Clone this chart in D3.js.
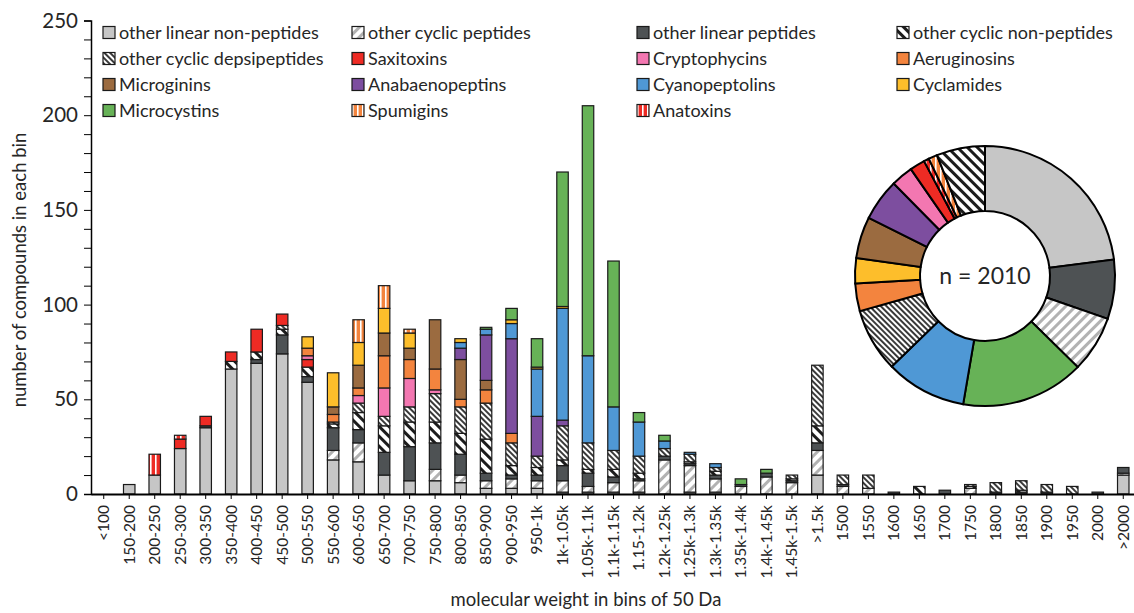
<!DOCTYPE html>
<html>
<head>
<meta charset="utf-8">
<script src="https://d3js.org/d3.v7.min.js"></script>
<style>
    body { margin: 0; background: #fff; }
    svg { font-family: Lato, "Open Sans", sans-serif; }
</style>
</head>
<body>
<div id="chart"></div>
<script>
// Bins of molecular weight (x axis)
const bins = ['<100', '150-200', '200-250', '250-300', '300-350', '350-400', '400-450', '450-500',
    '500-550', '550-600', '600-650', '650-700', '700-750', '750-800', '800-850', '850-900',
    '900-950', '950-1k', '1k-1.05k', '1.05k-1.1k', '1.1k-1.15k', '1.15-1.2k', '1.2k-1.25k',
    '1.25k-1.3k', '1.3k-1.35k', '1.35k-1.4k', '1.4k-1.45k', '1.45k-1.5k', '>1.5k', '1500',
    '1550', '1600', '1650', '1700', '1750', '1800', '1850', '1900', '1950', '2000', '>2000'];

// Number of compounds per bin, one array per compound class (stack order, bottom to top)
const linNonPep   = [0,5,10,24,35,66,69,74,59,18,17,10,7,7,6,3,3,3,1,1,1,1,0,1,1,0,0,0,10,0,0,0,0,0,0,0,0,0,0,0,10];
const cycPep      = [0,0,0,0,0,0,0,0,0,5,10,0,0,6,4,4,5,4,6,3,5,6,18,14,7,4,9,6,13,4,3,0,0,0,3,0,0,0,0,0,1];
const linPep      = [0,0,0,0,1,0,2,10,3,12,7,12,18,14,11,4,2,3,8,7,3,1,2,1,2,1,2,1,4,1,0,1,0,2,0,1,1,1,0,1,3];
const cycNonPep   = [0,0,0,0,0,4,4,3,5,2,9,14,13,11,11,18,5,4,3,2,4,3,0,1,2,0,0,1,9,0,0,0,4,0,1,0,1,0,0,0,0];
const cycDepsi    = [0,0,0,0,0,0,0,2,0,1,5,5,8,15,14,19,12,6,18,14,10,9,4,4,2,0,0,2,32,5,7,0,0,0,1,5,5,4,4,0,0];
const saxitoxins  = [0,0,0,5,5,5,12,6,4,0,0,0,0,0,0,0,0,0,0,0,0,0,0,0,0,0,0,0,0,0,0,0,0,0,0,0,0,0,0,0,0];
const cryptophycins = [0,0,0,0,0,0,0,0,2,0,4,15,15,2,0,0,0,0,0,0,0,0,0,0,0,0,0,0,0,0,0,0,0,0,0,0,0,0,0,0,0];
const aeruginosins = [0,0,0,0,0,0,0,0,4,4,4,17,10,11,4,7,5,0,0,0,0,0,0,0,0,0,0,0,0,0,0,0,0,0,0,0,0,0,0,0,0];
const microginins = [0,0,0,0,0,0,0,0,0,4,12,12,6,26,21,5,0,0,0,0,0,0,0,0,0,0,0,0,0,0,0,0,0,0,0,0,0,0,0,0,0];
const anabaenopeptins = [0,0,0,0,0,0,0,0,0,0,0,0,0,0,6,24,50,21,3,0,0,0,0,0,0,0,0,0,0,0,0,0,0,0,0,0,0,0,0,0,0];
const cyanopeptolins = [0,0,0,0,0,0,0,0,0,0,0,0,0,0,3,3,8,25,59,46,23,18,4,1,2,0,0,0,0,0,0,0,0,0,0,0,0,0,0,0,0];
const cyclamides  = [0,0,0,0,0,0,0,0,6,18,12,13,8,0,2,0,2,1,1,0,0,0,0,0,0,0,0,0,0,0,0,0,0,0,0,0,0,0,0,0,0];
const microcystins = [0,0,0,0,0,0,0,0,0,0,0,0,0,0,0,1,6,15,71,132,77,5,3,0,0,3,2,0,0,0,0,0,0,0,0,0,0,0,0,0,0];
const spumigins   = [0,0,0,0,0,0,0,0,0,0,12,12,2,0,0,0,0,0,0,0,0,0,0,0,0,0,0,0,0,0,0,0,0,0,0,0,0,0,0,0,0];
const anatoxins   = [0,0,11,2,0,0,0,0,0,0,0,0,0,0,0,0,0,0,0,0,0,0,0,0,0,0,0,0,0,0,0,0,0,0,0,0,0,0,0,0,0];

const keys = ['linNonPep', 'cycPep', 'linPep', 'cycNonPep', 'cycDepsi', 'saxitoxins', 'cryptophycins',
    'aeruginosins', 'microginins', 'anabaenopeptins', 'cyanopeptolins', 'cyclamides', 'microcystins',
    'spumigins', 'anatoxins'];
const labels = ['other linear non-peptides', 'other cyclic peptides', 'other linear peptides',
    'other cyclic non-peptides', 'other cyclic depsipeptides', 'Saxitoxins', 'Cryptophycins',
    'Aeruginosins', 'Microginins', 'Anabaenopeptins', 'Cyanopeptolins', 'Cyclamides', 'Microcystins',
    'Spumigins', 'Anatoxins'];

// Doughnut: class shares of all compounds (clockwise from 12 o'clock)
const pieKeys   = ['linNonPep', 'linPep', 'cycPep', 'microcystins', 'cyanopeptolins', 'cycDepsi',
    'aeruginosins', 'cyclamides', 'microginins', 'anabaenopeptins', 'cryptophycins', 'saxitoxins',
    'anatoxins', 'spumigins', 'cycNonPep'];
const pieValues = [462, 148, 141, 308, 202, 159, 69, 63, 104, 105, 55, 38, 13, 22, 121];
const total = 2010;

const W = 1134, H = 613;
const margin = {top: 20.5, left: 91, bottom: 119};

const svg = d3.select('#chart')
    .append('svg')
    .attr('width', W)
    .attr('height', H);

// Hatch patterns
const defs = svg.append('defs');
function stripes(id, bg, fg, size, width, angle) {
    const p = defs.append('pattern')
        .attr('id', id)
        .attr('patternUnits', 'userSpaceOnUse')
        .attr('width', size)
        .attr('height', size)
        .attr('patternTransform', `rotate(${angle})`);
    p.append('rect').attr('width', size).attr('height', size).attr('fill', bg);
    p.append('rect').attr('width', width).attr('height', size).attr('fill', fg);
}
stripes('p-cycPep', '#ffffff', '#b2b2b2', 7, 3, 45);
stripes('p-cycNonPep', '#ffffff', '#1c1c1c', 7, 3, -45);
stripes('p-cycDepsi', '#ffffff', '#3a3a3a', 4, 2, -45);
stripes('p-spumigins', '#f3843e', '#ffffff', 5, 1.6, 0);
stripes('p-anatoxins', '#ee2b24', '#ffffff', 5, 1.6, 0);

const fills = {
    linNonPep: '#c6c6c6',
    cycPep: 'url(#p-cycPep)',
    linPep: '#4e5254',
    cycNonPep: 'url(#p-cycNonPep)',
    cycDepsi: 'url(#p-cycDepsi)',
    saxitoxins: '#ee2b24',
    cryptophycins: '#f377b1',
    aeruginosins: '#f3843e',
    microginins: '#9b6b40',
    anabaenopeptins: '#7d4e9f',
    cyanopeptolins: '#4f98d5',
    cyclamides: '#fdbe2b',
    microcystins: '#67b257',
    spumigins: 'url(#p-spumigins)',
    anatoxins: 'url(#p-anatoxins)'
};

// Table for the stack
const seriesData = {linNonPep, cycPep, linPep, cycNonPep, cycDepsi, saxitoxins, cryptophycins,
    aeruginosins, microginins, anabaenopeptins, cyanopeptolins, cyclamides, microcystins, spumigins, anatoxins};
const table = bins.map((b, i) => {
    const row = {bin: b};
    keys.forEach(k => row[k] = seriesData[k][i]);
    return row;
});
const stacked = d3.stack().keys(keys)(table);

// Scales
const x = d3.scaleBand()
    .domain(bins)
    .range([margin.left, 1136])
    .paddingInner(0.55)
    .paddingOuter(0.275);
const y = d3.scaleLinear()
    .domain([0, 250])
    .range([H - margin.bottom, margin.top]);

// Bars
svg.append('g')
    .selectAll('g')
    .data(stacked)
    .join('g')
    .attr('fill', d => fills[d.key])
    .selectAll('rect')
    .data(d => d.filter(s => s[1] > s[0]))
    .join('rect')
    .attr('x', d => x(d.data.bin))
    .attr('width', x.bandwidth())
    .attr('y', d => y(d[1]))
    .attr('height', d => y(d[0]) - y(d[1]))
    .attr('stroke', '#1a1a1a')
    .attr('stroke-width', 1.2);

// Y axis
const yAxis = svg.append('g')
    .attr('transform', `translate(${margin.left}, 0)`)
    .call(d3.axisLeft(y)
        .tickValues(d3.range(0, 251, 10))
        .tickFormat(d => d % 50 === 0 ? d : '')
        .tickSize(7)
        .tickPadding(6));
yAxis.select('.domain').attr('stroke', '#000').attr('stroke-width', 1.5);
yAxis.selectAll('.tick line').attr('stroke', '#000');
yAxis.selectAll('.tick text')
    .attr('font-size', 20.5)
    .attr('fill', '#262626')
    .attr('font-family', 'Lato, sans-serif');

// X axis
const xAxis = svg.append('g')
    .attr('transform', `translate(0, ${y(0)})`)
    .call(d3.axisBottom(x).tickSize(5).tickSizeOuter(0));
xAxis.select('.domain').attr('stroke', '#000').attr('stroke-width', 2);
xAxis.selectAll('.tick line').attr('stroke', '#000');
xAxis.selectAll('.tick text')
    .attr('font-size', 15.5)
    .attr('font-family', 'Lato, sans-serif')
    .attr('fill', '#262626')
    .attr('text-anchor', 'end')
    .attr('x', 0)
    .attr('y', 0)
    .attr('dy', '0.35em')
    .attr('transform', 'translate(0, 11) rotate(-90)');

// Axis titles
svg.append('text')
    .attr('x', 586)
    .attr('y', 606)
    .attr('text-anchor', 'middle')
    .attr('font-size', 18.5)
    .attr('fill', '#262626')
    .text('molecular weight in bins of 50 Da');

svg.append('text')
    .attr('transform', 'translate(26, 270) rotate(-90)')
    .attr('text-anchor', 'middle')
    .attr('font-size', 18.5)
    .attr('fill', '#262626')
    .text('number of compounds in each bin');

// Legend: 4 columns, filled row by row
const colX = [103, 352, 637, 897];
const rowY = [32.5, 58.5, 84.5, 110.5];
const legend = svg.append('g')
    .selectAll('g')
    .data(keys)
    .join('g')
    .attr('transform', (d, i) => `translate(${colX[i % 4]}, ${rowY[Math.floor(i / 4)]})`);
legend.append('rect')
    .attr('x', 0)
    .attr('y', -6)
    .attr('width', 12)
    .attr('height', 12)
    .attr('fill', d => fills[d])
    .attr('stroke', '#1a1a1a')
    .attr('stroke-width', 1.2);
legend.append('text')
    .attr('x', 16)
    .attr('dy', '0.35em')
    .attr('font-size', 18)
    .attr('fill', '#262626')
    .text((d, i) => labels[i]);

// Doughnut
const pieData = pieKeys.map((k, i) => ({key: k, value: pieValues[i]}));
const pie = d3.pie().sort(null).value(d => d.value);
const arc = d3.arc().innerRadius(65).outerRadius(130);
const donut = svg.append('g')
    .attr('transform', 'translate(985, 276)');
donut.selectAll('path')
    .data(pie(pieData))
    .join('path')
    .attr('d', arc)
    .attr('fill', d => fills[d.data.key])
    .attr('stroke', '#000')
    .attr('stroke-width', 2);
donut.append('text')
    .attr('text-anchor', 'middle')
    .attr('dy', '0.35em')
    .attr('font-size', 23)
    .attr('fill', '#262626')
    .text(`n = ${total}`);
</script>
</body>
</html>
